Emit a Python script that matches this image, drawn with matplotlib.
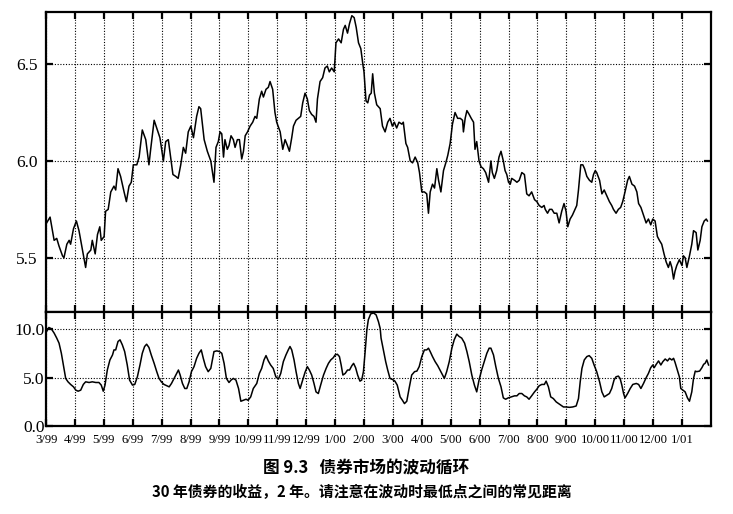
import matplotlib
matplotlib.use("Agg")
import matplotlib.pyplot as plt

# x values are months counted from 3/99 (0 = start of March 1999)
yield_month = [
    0.02, 0.14, 0.22, 0.28, 0.37, 0.45, 0.57, 0.62, 0.72, 0.80, 0.85, 0.95, 1.05, 1.14,
    1.26, 1.37, 1.43, 1.55, 1.60, 1.70, 1.78, 1.86, 1.91, 2.01, 2.06, 2.15, 2.24, 2.35,
    2.41, 2.49, 2.58, 2.70, 2.78, 2.87, 2.95, 3.02, 3.14, 3.22, 3.33, 3.45, 3.56, 3.62,
    3.74, 3.85, 3.94, 4.06, 4.14, 4.23, 4.31, 4.39, 4.49, 4.57, 4.66, 4.75, 4.83, 4.92,
    5.01, 5.10, 5.21, 5.29, 5.35, 5.47, 5.58, 5.70, 5.81,
    5.88, 5.96, 6.02, 6.08, 6.14, 6.19, 6.27, 6.33, 6.40, 6.48, 6.54, 6.62, 6.69, 6.77,
    6.83, 6.89, 6.97, 7.06, 7.15, 7.23, 7.29, 7.38, 7.46, 7.52, 7.61, 7.69, 7.75, 7.84,
    7.92, 7.98, 8.10, 8.19, 8.27, 8.35, 8.42, 8.50, 8.56, 8.65, 8.73, 8.81, 8.88, 8.96,
    9.04, 9.11, 9.19, 9.27, 9.34, 9.39, 9.48, 9.57, 9.65, 9.73, 9.80, 9.88, 9.97, 10.03,
    10.12, 10.21, 10.29, 10.35, 10.43, 10.50, 10.58, 10.66, 10.73, 10.81, 10.89, 10.96,
    11.00, 11.07, 11.13, 11.19, 11.25, 11.30, 11.36, 11.44, 11.50, 11.56,
    11.64, 11.73, 11.82, 11.90, 11.98, 12.05, 12.13, 12.21, 12.31, 12.36, 12.45, 12.51,
    12.60, 12.68, 12.77, 12.86, 12.92, 13.00, 13.09, 13.17, 13.23, 13.29, 13.37, 13.44,
    13.52, 13.58, 13.66, 13.75, 13.83, 13.90, 13.98, 14.06, 14.15, 14.24, 14.33, 14.41,
    14.44, 14.50, 14.56, 14.64, 14.71, 14.79, 14.84, 14.90, 14.98, 15.05, 15.13, 15.21,
    15.31, 15.39, 15.44, 15.51, 15.59, 15.67, 15.74, 15.82, 15.88, 15.94, 16.00, 16.06,
    16.11, 16.21, 16.29, 16.37, 16.46, 16.55, 16.63, 16.71, 16.80, 16.90, 16.98, 17.06,
    17.15, 17.23, 17.27,
    17.35, 17.42, 17.50, 17.58, 17.67, 17.75, 17.84, 17.92, 17.99, 18.05, 18.13, 18.21,
    18.30, 18.36, 18.42, 18.50, 18.57, 18.63, 18.71, 18.80, 18.88, 18.94, 19.00, 19.05,
    19.15, 19.23, 19.31, 19.40, 19.49, 19.57, 19.63, 19.72, 19.80, 19.88, 19.95, 20.03,
    20.12, 20.18, 20.27, 20.36, 20.44, 20.50, 20.58, 20.67, 20.76, 20.84, 20.92, 20.99,
    21.07, 21.15, 21.22, 21.30, 21.38, 21.45, 21.53, 21.59, 21.65, 21.71, 21.76, 21.82,
    21.91, 22.00, 22.05, 22.11, 22.17, 22.26, 22.34, 22.40, 22.49, 22.55, 22.63, 22.69,
    22.77, 22.84, 22.88,
]
yield_value = [
    5.68, 5.71, 5.64, 5.59, 5.60, 5.56, 5.51, 5.50, 5.57, 5.59, 5.57, 5.65, 5.69, 5.64,
    5.54, 5.45, 5.52, 5.54, 5.59, 5.52, 5.62, 5.66, 5.59, 5.61, 5.74, 5.75, 5.84, 5.87,
    5.85, 5.96, 5.92, 5.84, 5.79, 5.87, 5.89, 5.98, 5.98, 6.02, 6.16, 6.11, 5.98, 6.06,
    6.21, 6.16, 6.12, 6.00, 6.10, 6.11, 6.02, 5.93, 5.92, 5.91, 5.98, 6.07, 6.04, 6.15,
    6.18, 6.12, 6.23, 6.28, 6.27, 6.11, 6.05, 6.00, 5.89,
    6.07, 6.10, 6.15, 6.14, 6.02, 6.11, 6.06, 6.08, 6.13, 6.11, 6.07, 6.11, 6.11, 6.01,
    6.05, 6.13, 6.15, 6.18, 6.20, 6.23, 6.22, 6.32, 6.36, 6.33, 6.37, 6.38, 6.41, 6.37,
    6.25, 6.20, 6.15, 6.06, 6.11, 6.08, 6.05, 6.12, 6.18, 6.21, 6.22, 6.23, 6.30, 6.35,
    6.32, 6.26, 6.24, 6.23, 6.20, 6.32, 6.41, 6.43, 6.48, 6.49, 6.46, 6.48, 6.46, 6.61,
    6.63, 6.61, 6.68, 6.70, 6.66, 6.71, 6.75, 6.74, 6.69, 6.61, 6.58, 6.50,
    6.46, 6.31, 6.30, 6.34, 6.35, 6.45, 6.35, 6.29, 6.28, 6.27,
    6.18, 6.15, 6.20, 6.22, 6.18, 6.20, 6.17, 6.20, 6.19, 6.20, 6.09, 6.07,
    6.00, 5.99, 6.02, 5.99, 5.94, 5.84, 5.84, 5.83, 5.73, 5.84, 5.88, 5.86,
    5.96, 5.90, 5.84, 5.95, 5.99, 6.03, 6.09, 6.19, 6.25, 6.22, 6.22, 6.21,
    6.15, 6.22, 6.26, 6.24, 6.22, 6.20, 6.06, 6.10, 6.00, 5.97, 5.96, 5.94,
    5.89, 6.00, 5.94, 5.91, 5.95, 6.02, 6.05, 6.00, 5.95, 5.93, 5.89, 5.88,
    5.91, 5.90, 5.89, 5.90, 5.94, 5.93, 5.83, 5.82, 5.84, 5.80, 5.79, 5.77,
    5.76, 5.77, 5.75,
    5.73, 5.75, 5.75, 5.73, 5.73, 5.68, 5.74, 5.78, 5.74, 5.66, 5.70, 5.72,
    5.75, 5.77, 5.85, 5.98, 5.98, 5.96, 5.92, 5.90, 5.89, 5.93, 5.95, 5.94,
    5.90, 5.83, 5.85, 5.82, 5.79, 5.77, 5.75, 5.73, 5.75, 5.76, 5.79, 5.84,
    5.90, 5.92, 5.88, 5.87, 5.84, 5.78, 5.76, 5.72, 5.68, 5.70, 5.67, 5.70,
    5.69, 5.61, 5.59, 5.57, 5.52, 5.48, 5.45, 5.48, 5.45, 5.39, 5.43, 5.46,
    5.49, 5.46, 5.51, 5.50, 5.45, 5.51, 5.57, 5.64, 5.63, 5.54, 5.59, 5.66,
    5.69, 5.70, 5.69,
]

cycle_month = [
    0.02, 0.10, 0.18, 0.28, 0.37, 0.45, 0.53, 0.60, 0.68, 0.76, 0.85, 0.95, 1.03, 1.11,
    1.20, 1.29, 1.37, 1.49, 1.60, 1.72, 1.83, 1.91, 1.98, 2.04, 2.12, 2.21, 2.30, 2.35,
    2.41, 2.49, 2.56, 2.64, 2.72, 2.81, 2.89, 2.99, 3.07, 3.16, 3.25, 3.33, 3.41, 3.48,
    3.56, 3.64, 3.74, 3.83, 3.91, 3.99, 4.08, 4.18, 4.26, 4.34, 4.43, 4.52, 4.58, 4.64,
    4.72, 4.80, 4.87, 4.95, 5.03, 5.12, 5.21, 5.29, 5.37, 5.44, 5.52, 5.61, 5.70,
    5.81, 5.91, 6.00, 6.08, 6.16, 6.24, 6.33, 6.40, 6.48, 6.57, 6.66, 6.74, 6.83, 6.92,
    6.99, 7.08, 7.17, 7.29, 7.38, 7.46, 7.54, 7.61, 7.69, 7.77, 7.86, 7.95, 8.04, 8.12,
    8.21, 8.30, 8.38, 8.44, 8.50, 8.58, 8.65, 8.73, 8.79, 8.88, 8.96, 9.04, 9.11, 9.19,
    9.27, 9.34, 9.42, 9.50, 9.60, 9.69, 9.77, 9.85, 9.94, 10.00, 10.08, 10.15, 10.21,
    10.27, 10.35, 10.43, 10.50, 10.58, 10.64, 10.71, 10.78, 10.86, 10.92, 10.98, 11.04,
    11.10, 11.15, 11.23, 11.33, 11.42, 11.50, 11.56,
    11.59, 11.67, 11.75, 11.82, 11.90, 11.98, 12.07, 12.15, 12.25, 12.33, 12.40, 12.48,
    12.56, 12.65, 12.75, 12.83, 12.91, 13.00, 13.09, 13.17, 13.23, 13.29, 13.37, 13.46,
    13.55, 13.63, 13.72, 13.78, 13.86, 13.95, 14.04, 14.12, 14.21, 14.29, 14.38, 14.48,
    14.56, 14.64, 14.73, 14.82, 14.90, 14.98, 15.07, 15.16, 15.25, 15.33, 15.39, 15.48,
    15.56, 15.65, 15.74, 15.82, 15.90, 15.99, 16.09, 16.21, 16.29, 16.37, 16.46, 16.55,
    16.63, 16.71, 16.80, 16.90, 16.98, 17.06, 17.15, 17.24,
    17.30, 17.38, 17.46, 17.55, 17.65, 17.73, 17.81, 17.90, 17.99, 18.11, 18.22, 18.34,
    18.42, 18.48, 18.54, 18.62, 18.71, 18.79, 18.88, 18.96, 19.05, 19.15, 19.23, 19.31,
    19.40, 19.49, 19.57, 19.65, 19.72, 19.80, 19.86, 19.92, 19.98, 20.03, 20.12, 20.21,
    20.30, 20.42, 20.50, 20.58, 20.67, 20.76, 20.84, 20.92, 20.99, 21.04, 21.11, 21.19,
    21.27, 21.34, 21.42, 21.50, 21.57, 21.65, 21.71, 21.76, 21.84, 21.91, 21.96, 22.03,
    22.11, 22.19, 22.26, 22.34, 22.40, 22.46, 22.51, 22.61, 22.69, 22.75, 22.80, 22.86,
    22.92,
]
cycle_value = [
    9.79, 10.20, 10.07, 9.62, 9.10, 8.58, 7.53, 6.32, 4.93, 4.58, 4.31, 4.06, 3.72, 3.61,
    3.72, 4.31, 4.58, 4.51, 4.58, 4.51, 4.51, 4.24, 3.61, 4.24, 5.80, 6.84, 7.36, 7.88,
    7.88, 8.75, 8.92, 8.40, 7.71, 6.32, 4.76, 4.24, 4.31, 5.10, 6.32, 7.53, 8.23, 8.47,
    8.13, 7.36, 6.49, 5.63, 4.93, 4.58, 4.31, 4.17, 4.06, 4.41, 4.93, 5.45, 5.80, 5.28,
    4.41, 3.89, 3.89, 4.58, 5.63, 6.15, 7.01, 7.53, 7.88, 7.01, 6.15, 5.63, 5.97,
    7.71, 7.78, 7.71, 7.53, 6.49, 4.93, 4.51, 4.76, 4.93, 4.76, 3.89, 2.57, 2.67, 2.78,
    2.67, 3.02, 3.89, 4.41, 5.45, 5.97, 6.84, 7.29, 6.74, 6.32, 5.97, 5.10, 4.86, 5.45,
    6.67, 7.36, 7.88, 8.23, 7.88, 6.84, 5.63, 4.41, 3.89, 4.76, 5.56, 6.15, 5.80, 5.28,
    4.41, 3.54, 3.37, 4.24, 5.28, 5.97, 6.49, 6.84, 7.08, 7.36, 7.43, 7.19, 6.32,
    5.28, 5.45, 5.80, 5.80, 6.25, 6.49, 6.04, 5.28, 4.65, 4.76, 5.63, 7.71,
    9.97, 11.00, 11.60, 11.70, 11.50, 10.80, 10.10,
    9.10, 7.88, 6.67, 5.80, 4.93, 4.83, 4.65, 4.24, 3.02, 2.67, 2.33, 2.57,
    3.89, 5.28, 5.63, 5.69, 6.15, 7.19, 7.88, 7.88, 8.06, 7.71, 7.19, 6.67,
    6.25, 5.80, 5.28, 4.93, 5.63, 6.67, 8.06, 8.92, 9.51, 9.27, 9.10, 8.58,
    7.71, 6.67, 5.28, 4.24, 3.54, 4.76, 5.80, 6.67, 7.53, 8.06, 8.06, 7.36,
    6.15, 4.93, 4.06, 2.92, 2.78, 2.92, 3.02, 3.13, 3.13, 3.37, 3.37, 3.13,
    3.02, 2.78, 3.13, 3.54, 3.82, 4.17, 4.31, 4.31,
    4.65, 4.06, 3.02, 2.85, 2.50, 2.33, 2.15, 1.98, 1.98, 1.94, 1.98, 2.08,
    2.85, 4.58, 5.97, 6.84, 7.19, 7.29, 7.01, 6.32, 5.63, 4.58, 3.54, 3.02,
    3.19, 3.37, 3.89, 4.76, 5.10, 5.17, 4.93, 4.24, 3.37, 2.92, 3.37, 3.89,
    4.31, 4.41, 4.31, 3.89, 4.41, 5.00, 5.45, 6.04, 6.32, 6.04, 6.39, 6.74,
    6.32, 6.67, 6.94, 6.74, 7.01, 6.84, 7.01, 6.60, 5.80, 5.10, 3.89, 3.72,
    3.54, 2.92, 2.57, 3.54, 4.93, 5.69, 5.63, 5.69, 6.04, 6.39, 6.49, 6.84,
    6.32,
]

month_labels = ["3/99", "4/99", "5/99", "6/99", "7/99", "8/99", "9/99", "10/99",
                "11/99", "12/99", "1/00", "2/00", "3/00", "4/00", "5/00", "6/00",
                "7/00", "8/00", "9/00", "10/00", "11/00", "12/00", "1/01"]

title_line = "图 9.3   债券市场的波动循环"
subtitle_line = "30 年债券的收益，2 年。请注意在波动时最低点之间的常见距离"

serif = "Liberation Serif"
cjk = ["Noto Sans CJK SC", "DejaVu Sans"]

fig = plt.figure(figsize=(7.33, 5.14), dpi=100)
ax1 = fig.add_axes([0.0628, 0.393, 0.907, 0.584])
ax2 = fig.add_axes([0.0628, 0.171, 0.907, 0.222])

ax1.plot(yield_month, yield_value, color="black", lw=1.1)
ax2.plot(cycle_month, cycle_value, color="black", lw=1.1)

ticks = list(range(len(month_labels)))
for ax in (ax1, ax2):
    ax.set_xlim(0, 23.0)
    ax.set_xticks(ticks)
    ax.grid(True, color="black", linestyle=(0, (1, 1.5)), linewidth=0.8)
    ax.tick_params(direction="in", top=True, right=True, length=5, width=1.6)
    for sp in ax.spines.values():
        sp.set_linewidth(1.6)

ax1.set_ylim(5.22, 6.77)
ax1.set_yticks([5.5, 6.0, 6.5])
ax1.set_yticklabels(["5.5", "6.0", "6.5"])
ax1.tick_params(axis="x", labelbottom=False)
ax1.tick_params(axis="y", pad=6, labelsize=12.5, labelfontfamily=serif)

ax2.set_ylim(0, 11.8)
ax2.set_yticks([0, 5, 10])
ax2.set_yticklabels(["0.0", "5.0", "10.0"])
ax2.tick_params(axis="y", pad=1, labelsize=12.5, labelfontfamily=serif)
ax2.set_xticklabels(month_labels)
# month labels are set narrow so neighbours do not run into each other
for lab in ax2.get_xticklabels():
    lab.set_family(serif)
    lab.set_fontsize(9.2)
ax2.tick_params(axis="x", pad=6)

fig.text(0.5, 0.089, title_line, ha="center", va="center", family=cjk,
         fontsize=12, fontweight="bold")
fig.text(0.494, 0.043, subtitle_line, ha="center", va="center", family=cjk,
         fontsize=10.7, fontweight="bold")

fig.savefig("out.png", dpi=100)
